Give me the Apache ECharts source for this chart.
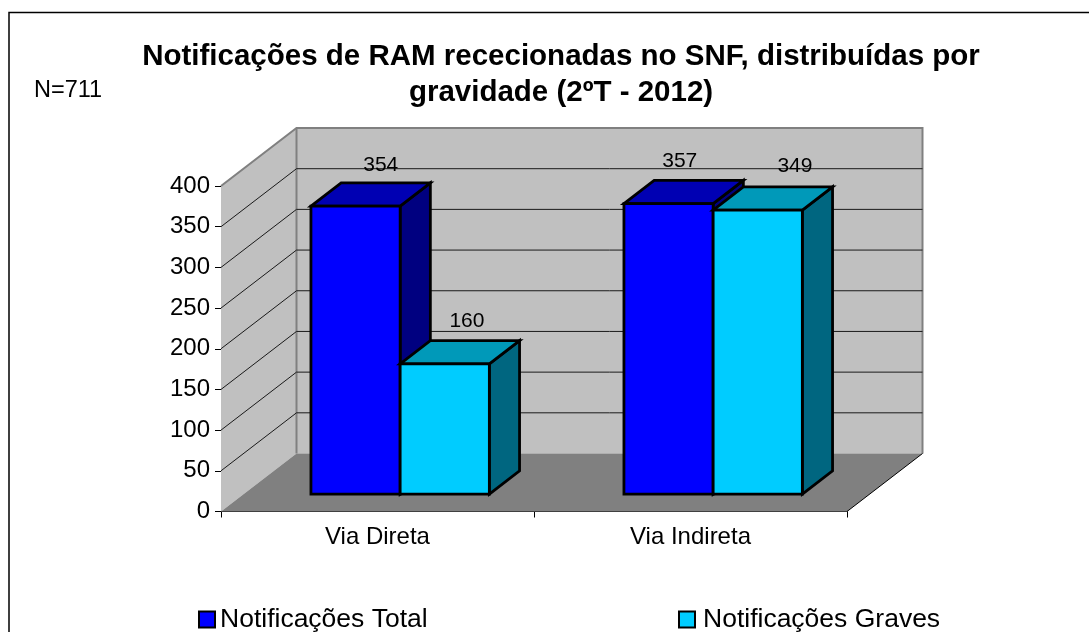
<!DOCTYPE html>
<html><head><meta charset="utf-8">
<style>html,body{margin:0;padding:0;background:#fff}#c{width:1089px;height:632px}</style>
<script src="https://cdn.jsdelivr.net/npm/echarts@6/dist/echarts.min.js"></script>
</head><body><div id="c"></div>
<script>
const categories = ['Via Direta', 'Via Indireta'];
const totalValues = [354, 357];
const graveValues = [160, 349];
const tickValues = [0, 50, 100, 150, 200, 250, 300, 350, 400];
const seriesNames = ['Notificações Total', 'Notificações Graves'];
const titleText = 'Notificações de RAM rececionadas no SNF, distribuídas por\ngravidade (2ºT - 2012)';
const noteText = 'N=711';

const FONT = '"Liberation Sans", Arial, sans-serif';
const DX = 75.5, DY = -58;          // wall depth in pixels
const BAR_FROM = 0.3, BAR_TO = 0.7; // bar depth as fraction of the wall depth
const BAR_SHARE = 0.285;            // bar width as share of a category band
// hand-placed data labels in the reference: nudges from the top-back edge centre
const totalNudge = [[-5, -7], [-19, -9]];
const graveNudge = [[-8, -9], [7, -10]];

function shift(p, f) { return [p[0] + DX * f, p[1] + DY * f]; }

function renderWalls(params, api) {
  const maxV = tickValues[tickValues.length - 1];
  const a = api.coord; 
  const half = api.size([1, 0])[0] / 2;
  const fl0 = [a([0, 0])[0] - half, a([0, 0])[1]];
  const fl1 = [fl0[0], a([0, maxV])[1]];
  const fr0 = [a([categories.length - 1, 0])[0] + half, fl0[1]];
  const bl0 = shift(fl0, 1), bl1 = shift(fl1, 1), br0 = shift(fr0, 1);
  const br1 = [br0[0], bl1[1]];
  const wall = { fill: '#C0C0C0', stroke: null };
  const edge = { stroke: '#808080', lineWidth: 2, fill: null };
  const children = [
    { type: 'polygon', shape: { points: [fl0, fl1, bl1, bl0] }, style: wall },
    { type: 'polygon', shape: { points: [bl0, bl1, br1, br0] }, style: wall },
    { type: 'polygon', shape: { points: [fl0, bl0, br0, fr0] }, style: { fill: '#808080' } },
    { type: 'polyline', shape: { points: [fl1, bl1, br1, br0] }, style: edge },
    { type: 'polyline', shape: { points: [bl1, bl0] }, style: edge },
    { type: 'polyline', shape: { points: [fr0, br0] }, style: { stroke: '#000', lineWidth: 1, fill: null } }
  ];
  tickValues.slice(1, -1).forEach(v => {
    const y = a([0, v])[1];
    const f = [fl0[0], y], b = shift(f, 1);
    children.push({ type: 'polyline', shape: { points: [f, b, [br0[0], b[1]]] },
      style: { stroke: '#1a1a1a', lineWidth: 1, fill: null } });
  });
  return { type: 'group', children };
}

function barRenderer(offsetSign, colors, nudge) {
  return function (params, api) {
    const cat = api.value(0), val = api.value(1);
    const band = api.size([1, 0])[0];
    const w = band * BAR_SHARE;
    const c0 = api.coord([cat, 0]), c1 = api.coord([cat, val]);
    const x0 = c0[0] + (offsetSign < 0 ? -w : 0), x1 = x0 + w;
    const p = (x, y, f) => [x + DX * f, y + DY * f];
    const fb = p(x0, c0[1], BAR_FROM), fbr = p(x1, c0[1], BAR_FROM);
    const ft = p(x0, c1[1], BAR_FROM), ftr = p(x1, c1[1], BAR_FROM);
    const bt = p(x0, c1[1], BAR_TO), btr = p(x1, c1[1], BAR_TO), bbr = p(x1, c0[1], BAR_TO);
    const line = { stroke: '#000', lineWidth: 2.8, lineJoin: 'miter' };
    return { type: 'group', children: [
      { type: 'polygon', shape: { points: [ftr, btr, bbr, fbr] }, style: { fill: colors[2], ...line } },
      { type: 'polygon', shape: { points: [ft, bt, btr, ftr] }, style: { fill: colors[1], ...line } },
      { type: 'polygon', shape: { points: [ft, ftr, fbr, fb] }, style: { fill: colors[0], ...line } },
      { type: 'text', x: (bt[0] + btr[0]) / 2 + nudge[cat][0], y: bt[1] + nudge[cat][1],
        style: { text: String(val), font: '21px ' + FONT, fill: '#000', align: 'center', verticalAlign: 'bottom' } }
    ] };
  };
}

const chart = echarts.init(document.getElementById('c'), null, { renderer: 'canvas' });
chart.setOption({
  animation: false,
  backgroundColor: '#fff',
  title: { text: titleText, left: 556, top: 34, textAlign: 'center',
    textStyle: { fontFamily: FONT, fontWeight: 'bold', fontSize: 29.5, lineHeight: 36, color: '#000' } },
  legend: [
    { data: [{ name: seriesNames[0], icon: 'rect' }], left: 193, top: 601, itemWidth: 16, itemHeight: 16, itemGap: 4,
      textStyle: { fontFamily: FONT, fontSize: 26.5, color: '#000' } },
    { data: [{ name: seriesNames[1], icon: 'rect' }], left: 673, top: 601, itemWidth: 16, itemHeight: 16, itemGap: 4,
      textStyle: { fontFamily: FONT, fontSize: 26.5, color: '#000', padding: [0, 0, 0, 3] } }
  ],
  grid: { left: 221, top: 186, width: 626, height: 325.5, containLabel: false },
  xAxis: { type: 'category', data: categories,
    axisLine: { lineStyle: { color: '#000', width: 1 } },
    axisTick: { show: true, length: 6, lineStyle: { color: '#000' } },
    axisLabel: { fontFamily: FONT, fontSize: 24, color: '#000', margin: 14 } },
  yAxis: { type: 'value', min: 0, max: 400, interval: 50,
    axisLine: { show: true, lineStyle: { color: '#000', width: 1 } },
    axisTick: { show: true, length: 6, lineStyle: { color: '#000' } },
    splitLine: { show: false },
    axisLabel: { fontFamily: FONT, fontSize: 24, color: '#000', margin: 11, padding: [1, 0, 0, 0] } },
  graphic: [
    { type: 'rect', shape: { x: 9, y: 12.5, width: 1200, height: 800 }, style: { fill: null, stroke: '#000', lineWidth: 1.5 }, z: 0, silent: true },
    { type: 'text', x: 34, y: 79, style: { text: noteText, font: '23.5px ' + FONT, fill: '#000' }, silent: true }
  ],
  series: [
    { type: 'custom', name: 'walls', silent: true, z: 1, data: [[0, 0]], renderItem: renderWalls, clip: false,
      encode: { x: 0, y: 1 }, tooltip: { show: false } },
    { type: 'custom', name: seriesNames[0], z: 2, clip: false, renderItem: barRenderer(-1, ['#0000FF', '#0000B3', '#000080'], totalNudge),
      itemStyle: { color: '#0000FF', borderColor: '#000', borderWidth: 2 },
      encode: { x: 0, y: 1 }, data: totalValues.map((v, i) => [i, v]) },
    { type: 'custom', name: seriesNames[1], z: 3, clip: false, renderItem: barRenderer(1, ['#00CCFF', '#0099B9', '#006680'], graveNudge),
      itemStyle: { color: '#00CCFF', borderColor: '#000', borderWidth: 2 },
      encode: { x: 0, y: 1 }, data: graveValues.map((v, i) => [i, v]) }
  ]
});
</script></body></html>
